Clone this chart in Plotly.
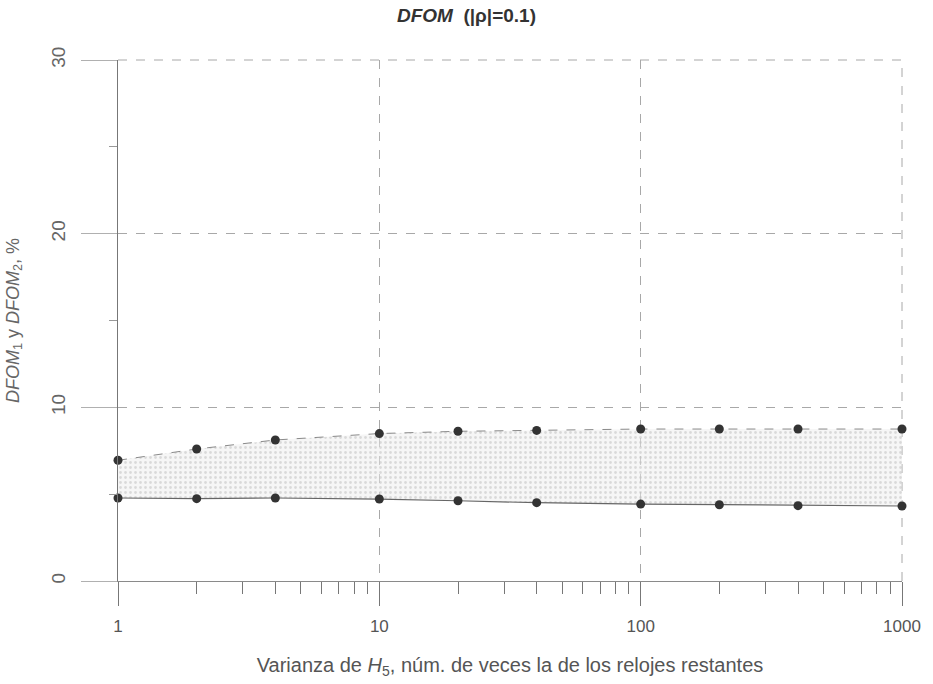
import plotly.graph_objects as go

# Varianza relativa de H5 (veces la de los relojes restantes)
varianza = [1, 2, 4, 10, 20, 40, 100, 200, 400, 1000]
# DFOM1 (curva superior) y DFOM2 (curva inferior), en %
dfom_1 = [6.95, 7.6, 8.12, 8.49, 8.62, 8.67, 8.75, 8.75, 8.75, 8.75]
dfom_2 = [4.78, 4.74, 4.78, 4.72, 4.62, 4.51, 4.43, 4.39, 4.34, 4.32]

x_tickvals = [1, 10, 100, 1000]
x_ticktext = ["1", "10", "100", "1000"]
# subdivisiones logarítmicas 2..9 de cada década
x_minor = [m * 10 ** d for d in range(3) for m in range(2, 10)]
y_tickvals = [0, 10, 20, 30]

FONT = "Liberation Sans, Arial, sans-serif"
MARK = "#333333"
GRID = "#a8a8a8"

fig = go.Figure()

fig.add_trace(go.Scatter(
    x=varianza, y=dfom_2, mode="lines+markers",
    line=dict(color="#666666", width=1.2),
    marker=dict(color=MARK, size=9),
    cliponaxis=False, showlegend=False, name="DFOM2",
))
fig.add_trace(go.Scatter(
    x=varianza, y=dfom_1, mode="lines+markers",
    line=dict(color="#8a8a8a", width=1, dash="dash"),
    marker=dict(color=MARK, size=9),
    fill="tonexty", fillcolor="rgba(220,220,220,0.4)",
    fillpattern=dict(shape=".", fgcolor="#bdbdbd", bgcolor="rgba(238,238,238,0.5)",
                     size=5, solidity=0.25),
    cliponaxis=False, showlegend=False, name="DFOM1",
))

# borde superior y derecho del marco, punteados
fig.add_shape(type="line", xref="paper", yref="paper", x0=0, x1=1, y0=1, y1=1,
              line=dict(color=GRID, width=1, dash="dash"), layer="below")
fig.add_shape(type="line", xref="paper", yref="paper", x0=1, x1=1, y0=0, y1=1,
              line=dict(color=GRID, width=1, dash="dash"), layer="below")

fig.update_layout(
    width=933, height=684,
    margin=dict(l=118, r=28, t=60, b=103),
    paper_bgcolor="white", plot_bgcolor="white",
    font=dict(family=FONT, color="#555555"),
    title=dict(
        text="<b><i>DFOM</i>  (|ρ|=0.1)</b>",
        x=0.5, xanchor="center", y=0.978, yanchor="middle",
        font=dict(size=19, color="#333333", family=FONT),
    ),
    xaxis=dict(
        type="log", range=[0, 3],
        tickvals=x_tickvals, ticktext=x_ticktext,
        ticks="outside", ticklen=24, tickcolor="#777777", tickwidth=1,
        ticklabelstandoff=6,
        tickfont=dict(size=17, color="#555555"),
        showgrid=True, gridcolor=GRID, griddash="dash", gridwidth=1,
        minor=dict(tickvals=x_minor, ticks="outside", ticklen=12,
                   tickcolor="#777777", showgrid=False),
        showline=True, linecolor="#8a8a8a", linewidth=1,
        zeroline=False,
        title=dict(
            text="Varianza de <i>H</i><sub>5</sub>, núm. de veces la de los relojes restantes",
            font=dict(size=20, color="#555555"), standoff=22,
        ),
    ),
    yaxis=dict(
        range=[0, 30],
        tickvals=y_tickvals,
        tickangle=-90,
        ticks="outside", ticklen=36, tickcolor="#b0b0b0",
        ticklabelstandoff=8,
        tickfont=dict(size=19, color="#666666"),
        showgrid=True, gridcolor=GRID, griddash="dash", gridwidth=1,
        minor=dict(ticks="outside", ticklen=8, tickcolor="#999999", dtick=5, showgrid=False),
        showline=True, linecolor="#777777", linewidth=1,
        zeroline=False,
        title=dict(
            text="<i>DFOM</i><sub>1</sub> y <i>DFOM</i><sub>2</sub>, %",
            font=dict(size=18, color="#666666"), standoff=24,
        ),
    ),
)

fig.write_html("out.html")
